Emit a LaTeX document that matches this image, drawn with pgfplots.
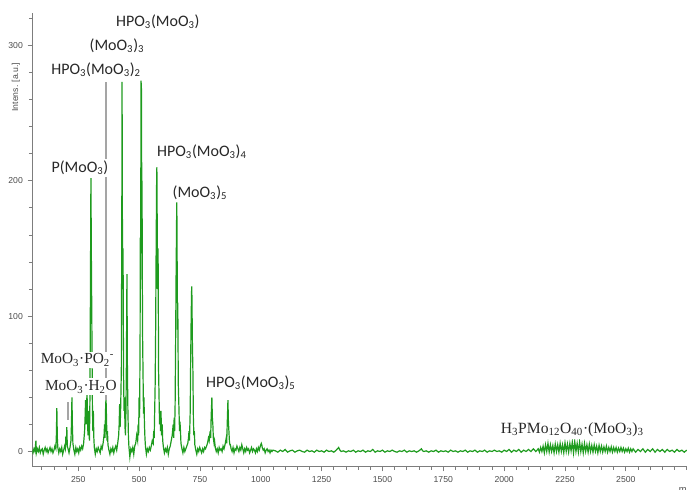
\documentclass[border=0pt]{standalone}
\usepackage{pgfplots}
\pgfplotsset{compat=1.18}
\usepackage{fontspec}
\setmainfont{Carlito}
\newfontfamily\serif{Liberation Serif}
\newfontfamily\ticksf{Liberation Sans}
\definecolor{specgreen}{RGB}{30,155,30}
\definecolor{axgray}{RGB}{125,125,125}
\definecolor{mkgray}{RGB}{165,165,165}
\definecolor{lblcol}{RGB}{40,40,40}
\begin{document}
\begin{tikzpicture}
\path[use as bounding box] (0,0) rectangle (515.25pt,367.5pt);
\begin{axis}[at={(24.2pt,17.5pt)}, anchor=south west, scale only axis,
  width=491pt, height=340.3pt,
  xmin=61, xmax=2751, ymin=-11.2, ymax=324,
  axis lines=left, axis line style={-, axgray, line width=0.8pt},
  tick align=outside,
  xtick={250,500,...,2500}, minor xtick={100,150,...,2750},
  ytick={0,100,200,300}, minor ytick={0,20,...,320},
  major tick length=3.5pt, minor tick length=2.5pt,
  tick style={axgray, line width=0.6pt},
  ticklabel style={font=\ticksf\fontsize{6.5}{7}\selectfont, text=black!70},
  /pgf/number format/assume math mode=true,
  /pgf/number format/set thousands separator={},
  clip=true]
\addplot[specgreen, line width=0.9pt] coordinates {
(60,1)(64,-1)(68,2)(72,0)(76,8)(78,-1)(82,2)(86,0)(90,3)(94,-1)(98,1)(102,2)(106,-2)(110,1)(114,3)(118,0)(122,2)(126,-1)(130,1)(134,3)(138,0)(142,2)(146,-1)(150,1)(154,4)(158,2)(160,12)(162,32)(164,10)(166,3)(170,-1)(174,2)(178,0)(182,3)(186,-2)(190,1)(194,4)(197,2)(199,11)(201,5)(203,18)(205,4)(208,2)(212,-1)(216,3)(220,8)(222,20)(224,40)(226,18)(228,6)(232,1)(236,-2)(240,3)(244,0)(248,2)(252,-1)(256,3)(260,1)(264,4)(268,2)(272,6)(276,15)(278,25)(280,38)(282,20)(284,30)(286,45)(288,22)(290,12)(292,30)(294,14)(296,8)(298,40)(300,120)(302,202)(304,140)(306,90)(308,35)(310,15)(312,30)(314,10)(316,3)(320,-2)(324,2)(328,0)(332,3)(336,1)(340,-1)(344,4)(348,2)(352,6)(356,12)(358,20)(360,10)(362,30)(364,40)(366,25)(368,8)(370,15)(372,5)(376,1)(380,-2)(384,2)(388,0)(392,3)(396,-1)(400,2)(404,4)(408,1)(412,6)(416,12)(418,20)(420,35)(422,18)(424,30)(425,40)(427,60)(429,180)(430,273)(431,200)(432,120)(434,150)(436,60)(438,30)(440,40)(442,18)(444,12)(446,30)(448,70)(450,131)(452,60)(454,30)(456,12)(458,4)(462,-4)(466,2)(470,0)(474,3)(478,-2)(482,4)(486,6)(490,12)(494,8)(496,20)(498,12)(500,40)(502,25)(504,80)(505,158)(506,120)(508,274)(510,266)(511,150)(512,200)(514,90)(516,60)(518,28)(520,40)(522,20)(524,10)(526,4)(530,-2)(534,2)(538,0)(542,3)(546,1)(550,4)(554,8)(558,6)(560,15)(562,10)(564,30)(566,50)(568,90)(570,150)(572,200)(573,210)(574,180)(576,120)(578,150)(580,60)(582,40)(584,20)(586,30)(588,15)(590,30)(592,12)(595,20)(597,8)(600,3)(604,-1)(608,2)(612,0)(616,3)(620,-2)(624,2)(628,4)(632,8)(636,12)(640,20)(642,10)(644,25)(646,15)(648,35)(650,80)(652,130)(654,170)(655,184)(656,150)(658,90)(659,110)(661,50)(664,30)(666,15)(668,22)(670,15)(672,6)(676,2)(680,-1)(684,3)(688,0)(692,2)(696,4)(700,6)(703,10)(705,15)(707,8)(710,30)(712,70)(714,100)(716,122)(717,115)(719,80)(721,60)(723,25)(725,12)(727,15)(729,5)(733,1)(737,-2)(741,2)(745,0)(749,3)(753,1)(757,-1)(761,2)(765,0)(769,3)(773,2)(777,4)(781,6)(785,10)(788,8)(790,12)(792,15)(794,10)(796,25)(799,40)(801,25)(803,20)(805,10)(808,6)(810,8)(813,3)(817,0)(821,2)(825,-1)(829,3)(833,1)(837,2)(841,0)(845,4)(849,2)(853,5)(856,8)(858,10)(860,6)(862,20)(865,38)(867,22)(869,15)(871,8)(873,5)(875,5)(878,2)(882,0)(886,3)(890,-1)(894,2)(898,1)(902,4)(906,2)(910,0)(914,3)(918,1)(922,5)(926,2)(930,-1)(934,2)(938,0)(942,3)(946,1)(950,2)(954,-1)(958,1)(962,3)(966,0)(970,2)(974,1)(978,-1)(982,2)(986,0)(990,3)(994,1)(998,4)(1002,6)(1004,5)(1006,3)(1010,1)(1014,2)(1018,-1)(1022,1)(1026,2)(1030,0)(1034,1)(1038,-1)(1042,1)(1046,0)(1050,1)
(1060,0.5)(1070,-0.5)(1080,1)(1090,0)(1100,1.5)(1110,-0.5)(1120,0.5)(1130,1)(1140,-0.5)(1150,0.5)(1160,1)(1170,0)(1180,-0.5)(1190,1)(1200,0)(1210,0.5)(1220,-0.5)(1230,1)(1240,0)(1250,0.5)(1260,-0.5)(1270,1)(1280,0)(1290,0.5)(1300,-0.5)(1310,1)(1320,3)(1325,1)(1330,0)(1340,0.5)(1350,-0.5)(1360,0.5)(1370,0)(1380,1)(1390,-0.5)(1400,0.5)(1410,0)(1420,1)(1430,-0.5)(1440,0.5)(1450,0)(1460,1.5)(1470,-0.5)(1480,0.5)(1490,0)(1500,1)(1510,-0.5)(1520,0.5)(1530,0)(1540,1)(1550,0)(1560,-0.5)(1570,0.5)(1580,0)(1590,1)(1600,-0.5)(1610,0.5)(1620,0)(1630,0.5)(1640,-0.5)(1650,0.5)(1660,2)(1665,0.5)(1670,0)(1680,0.5)(1690,-0.5)(1700,0.5)(1710,0)(1720,1)(1730,-0.5)(1740,0.5)(1750,0)(1760,0.5)(1770,-0.5)(1780,1)(1790,0)(1800,0.5)(1810,-0.5)(1820,0.5)(1830,0)(1840,1)(1850,-0.5)(1860,0.5)(1870,0)(1880,1)(1890,-0.5)(1900,0.5)(1910,0)(1920,1)(1930,-0.5)(1940,0.5)(1950,0)(1960,1)(1970,0)(1980,0.5)(1990,-0.5)(2000,1)(2010,0)(2020,1.5)(2030,-0.5)(2040,1)(2050,0)(2060,1.5)(2070,-0.5)(2080,1)(2090,0)(2100,1.5)(2110,0)(2120,2)(2130,0)(2140,2)
(2145,-0.5)(2150,3)(2155,0)(2160,4)(2165,-1)(2170,5)(2175,0)(2180,6)(2185,-0.5)(2190,5)(2195,0)(2200,4.5)(2205,-1)(2210,5.5)(2215,0)(2220,5)(2225,-0.5)(2230,6)(2235,0)(2240,5)(2245,-1)(2250,6.5)(2255,0)(2260,5.5)(2265,-0.5)(2270,6)(2275,0.5)(2280,7)(2285,-1)(2290,7.5)(2295,0)(2300,6)(2305,-0.5)(2310,7)(2315,0)(2320,5.5)(2325,-1)(2330,6)(2335,0)(2340,5)(2345,-0.5)(2350,5.5)(2355,0)(2360,4.5)(2365,-0.5)(2370,5)(2375,0)(2380,4)(2385,-1)(2390,4.5)(2395,0)(2400,4)(2405,-0.5)(2410,3.5)(2415,0)(2420,4)(2425,-0.5)(2430,3)(2435,0)(2440,3.5)(2445,-0.5)(2450,3)(2455,0)(2460,3)(2465,-0.5)(2470,2.5)(2475,0)(2480,3)(2485,0)(2490,2.5)(2495,-0.5)(2500,2)(2505,0)(2510,2.5)(2515,-0.5)(2520,2)(2525,0)(2530,2)(2540,-0.5)(2550,1.5)(2560,0)(2570,2)(2580,-0.5)(2590,1.5)(2600,0)(2610,2)(2620,-0.5)(2630,1.5)(2640,0)(2650,1.5)(2660,-0.5)(2670,1.5)(2680,0)(2690,1)(2700,-0.5)(2710,1.5)(2720,0)(2730,1)(2740,-0.5)(2750,1)
};
\addplot[mkgray, line width=1pt] coordinates {(364,38)(364,273)};
\addplot[mkgray, line width=1pt] coordinates {(208,23.3)(208,36.9)};
\begin{scope}[every node/.style={fill=white, inner sep=1.5pt, text=lblcol, font=\fontsize{12}{14}\selectfont}]
\node at (axis cs:577,317.5) {HPO\textsubscript{3}(MoO\textsubscript{3})};
\node at (axis cs:409,300) {(MoO\textsubscript{3})\textsubscript{3}};
\node at (axis cs:323,282) {HPO\textsubscript{3}(MoO\textsubscript{3})\textsubscript{2}};
\node at (axis cs:257,209.5) {P(MoO\textsubscript{3})};
\node at (axis cs:758,221.5) {HPO\textsubscript{3}(MoO\textsubscript{3})\textsubscript{4}};
\node at (axis cs:750,191) {(MoO\textsubscript{3})\textsubscript{5}};
\node at (axis cs:959,50.7) {HPO\textsubscript{3}(MoO\textsubscript{3})\textsubscript{5}};
\node[font=\serif\fontsize{11.5}{14}\selectfont] at (axis cs:247,67.7) {MoO\textsubscript{3}·PO\textsubscript{2}\textsuperscript{-}};
\node[font=\serif\fontsize{11.5}{14}\selectfont] at (axis cs:261,47.8) {MoO\textsubscript{3}·H\textsubscript{2}O};
\node[font=\serif\fontsize{11.7}{14}\selectfont] at (axis cs:2280,16) {H\textsubscript{3}PMo\textsubscript{12}O\textsubscript{40}·(MoO\textsubscript{3})\textsubscript{3}};
\end{scope}
\end{axis}
\node[rotate=90, font=\ticksf\fontsize{6.5}{7}\selectfont, text=black!70] at (12pt,302pt) {Intens. [a.u.]};
\node[anchor=north west, inner sep=0pt, font=\ticksf\fontsize{7}{8}\selectfont, text=black!70] at (509pt,3.5pt) {m/z};
\end{tikzpicture}
\end{document}
